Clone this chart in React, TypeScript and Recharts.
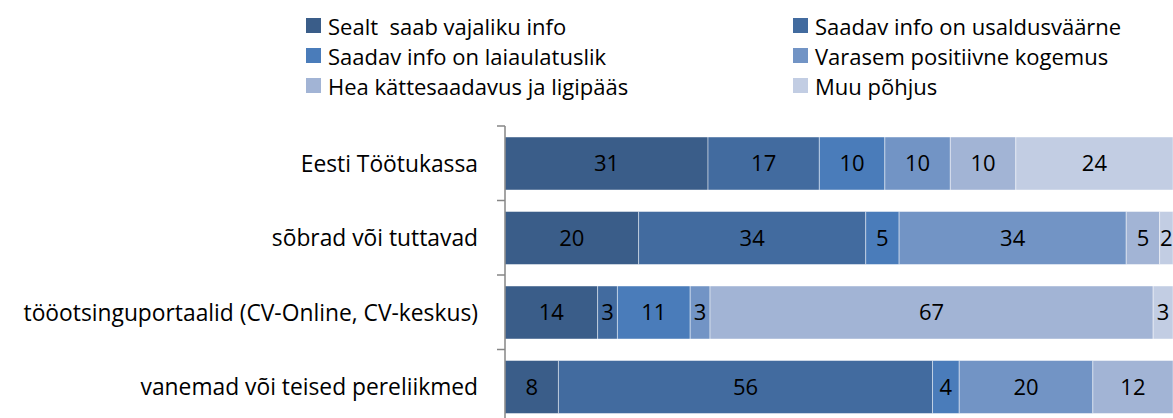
import React from "react";
import { BarChart, Bar, XAxis, YAxis, LabelList } from "recharts";

const categories = [
  "Eesti Töötukassa",
  "sõbrad või tuttavad",
  "tööotsinguportaalid (CV-Online, CV-keskus)",
  "vanemad või teised pereliikmed",
];

const seriesNames = [
  "Sealt  saab vajaliku info",
  "Saadav info on usaldusväärne",
  "Saadav info on laiaulatuslik",
  "Varasem positiivne kogemus",
  "Hea kättesaadavus ja ligipääs",
  "Muu põhjus",
];

const infoNeeded = [31, 20, 14, 8];
const infoTrusted = [17, 34, 3, 56];
const infoBroad = [10, 5, 11, 4];
const pastExperience = [10, 34, 3, 20];
const goodAccess = [10, 5, 67, 12];
const otherReason = [24, 2, 3, 0];

const seriesValues = [infoNeeded, infoTrusted, infoBroad, pastExperience, goodAccess, otherReason];
const colors = ["#3A5D89", "#426B9F", "#4A7CBA", "#7294C5", "#A2B4D5", "#C2CDE3"];

const chartData = categories.map((name, i) => {
  const row: { [key: string]: string | number } = { name };
  seriesValues.forEach((values, s) => {
    row[`s${s}`] = values[i];
  });
  return row;
});

const FONT = "'Open Sans', Lato, sans-serif";

const CHART_W = 1173;
const CHART_H = 430;
const MARGIN = { top: 126, right: 0, bottom: 6, left: 0 };
const BAND = (CHART_H - MARGIN.top - MARGIN.bottom) / categories.length;

// category label plus an Excel-style tick mark at the top edge of its band
const CategoryTick = (props: any) => {
  const { x, y, payload } = props;
  return (
    <g>
      <line x1={x} x2={x + 8} y1={y - BAND / 2} y2={y - BAND / 2} stroke="#868686" strokeWidth={1.5} />
      <text
        x={x - 19}
        y={y}
        textAnchor="end"
        dominantBaseline="central"
        fontSize={22.8}
        fontFamily={FONT}
        fill="#000"
      >
        {payload.value}
      </text>
    </g>
  );
};

const legendCols = [306, 793];
const legendRows = [18, 48, 78];

const App: React.FC = () => {
  return (
    <div
      style={{
        position: "fixed",
        top: 0,
        left: 0,
        width: CHART_W,
        height: 418,
        overflow: "hidden",
        background: "#fff",
      }}
    >
      {seriesNames.map((name, i) => (
        <div
          key={name}
          style={{
            position: "absolute",
            left: legendCols[i % 2],
            top: legendRows[Math.floor(i / 2)] - 5,
            height: 25,
            display: "flex",
            alignItems: "center",
            fontFamily: FONT,
            fontSize: 22,
            whiteSpace: "pre",
            color: "#000",
          }}
        >
          <span
            style={{
              display: "inline-block",
              width: 15,
              height: 15,
              background: colors[i],
              marginRight: 7,
            }}
          />
          {name}
        </div>
      ))}
      <BarChart
        width={CHART_W}
        height={CHART_H}
        data={chartData}
        layout="vertical"
        stackOffset="expand"
        barSize={53}
        margin={MARGIN}
      >
        <XAxis type="number" hide />
        <YAxis
          type="category"
          dataKey="name"
          width={505}
          tickSize={8}
          tickMargin={0}
          tickLine={false}
          axisLine={{ stroke: "#868686", strokeWidth: 1.5 }}
          tick={<CategoryTick />}
          interval={0}
        />
        {seriesNames.map((name, s) => (
          <Bar
            key={name}
            dataKey={`s${s}`}
            name={name}
            stackId="a"
            fill={colors[s]}
            stroke="rgba(255,255,255,0.45)"
            strokeWidth={1}
            isAnimationActive={false}
          >
            <LabelList
              dataKey={`s${s}`}
              position="center"
              fill="#000"
              fontSize={22}
              fontFamily={FONT}
              formatter={(v: any) => (v ? v : "")}
            />
          </Bar>
        ))}
      </BarChart>
    </div>
  );
};

export default App;
